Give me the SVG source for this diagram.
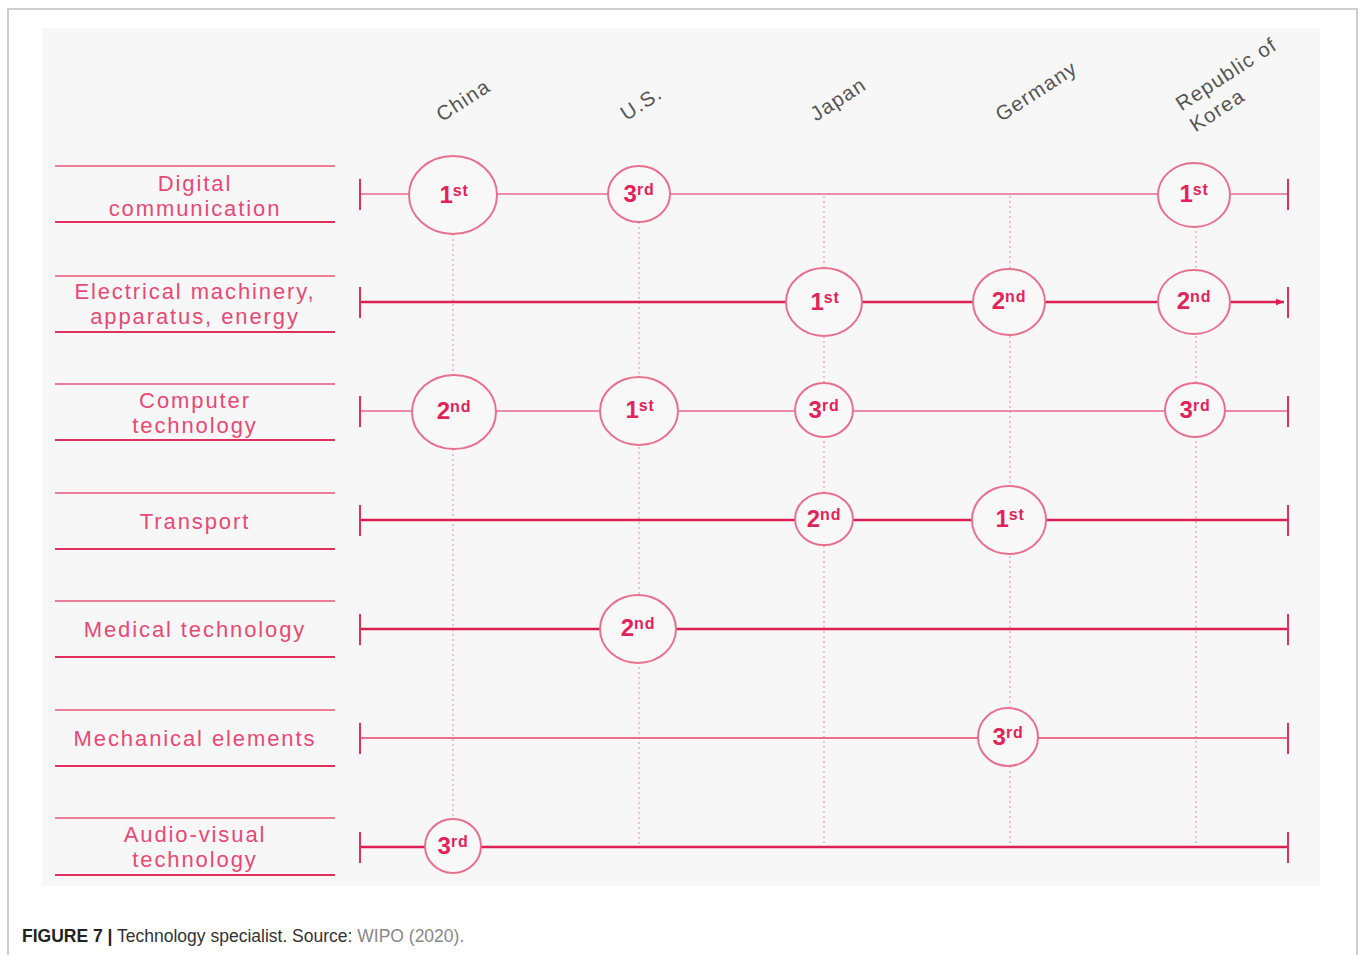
<svg xmlns="http://www.w3.org/2000/svg" width="1360" height="955" viewBox="0 0 1360 955">
<defs>
<style>
.lbl{font-family:"Liberation Sans",Arial,sans-serif;font-size:22px;letter-spacing:1.9px;fill:#e64a74;text-anchor:middle}
.sep{stroke:#e8557a;stroke-width:1.5}
.sepb{stroke:#e0305e;stroke-width:1.8}
.cty{font-family:"Liberation Sans",Arial,sans-serif;font-size:20.5px;letter-spacing:1.2px;fill:#555;text-anchor:middle}
.thin{stroke:#e96a8c;stroke-width:1.6;fill:none}
.thick{stroke:#dc1f50;stroke-width:2.6;fill:none}
.tick{stroke:#e0305e;stroke-width:2}
.dot{stroke:#eea3b6;stroke-width:1.3;stroke-dasharray:2 3}
.node ellipse{fill:#f8f8f8;stroke:#e8708f;stroke-width:2}
.ord{font-family:"Liberation Sans",Arial,sans-serif;font-weight:bold;font-size:24px;fill:#e0245a;text-anchor:middle}
.sup{font-size:16px;letter-spacing:0.8px}
.cap{font-family:"Liberation Sans",Arial,sans-serif;font-size:17.5px;fill:#333}
</style>
<marker id="arr" viewBox="0 0 10 10" refX="10" refY="5" markerWidth="3.2" markerHeight="3.2" orient="auto"><path d="M0,1 L10,5 L0,9 z" fill="#dc1f50"/></marker>
</defs>
<rect x="0" y="0" width="1360" height="955" fill="#ffffff"/>
<rect x="8" y="9" width="1349" height="960" fill="#ffffff" stroke="#cfcfcf" stroke-width="2"/>
<rect x="42" y="28" width="1278" height="858" fill="#f7f7f7"/>

<g id="countries">
<text class="cty" transform="translate(467,106) rotate(-33)">China</text>
<text class="cty" transform="translate(645,109) rotate(-33)">U.S.</text>
<text class="cty" transform="translate(842,105) rotate(-33)">Japan</text>
<text class="cty" transform="translate(1040,97) rotate(-33)">Germany</text>
<text class="cty" transform="translate(1230,80) rotate(-33)">Republic of</text>
<text class="cty" transform="translate(1221,116) rotate(-33)">Korea</text>
</g>

<g id="row-labels">
<line class="sep" x1="55" y1="166" x2="335" y2="166"/><line class="sepb" x1="55" y1="222" x2="335" y2="222"/>
<text class="lbl" x="195" y="191">Digital</text><text class="lbl" x="195" y="216">communication</text>
<line class="sep" x1="55" y1="276" x2="335" y2="276"/><line class="sepb" x1="55" y1="332" x2="335" y2="332"/>
<text class="lbl" x="195" y="299">Electrical machinery,</text><text class="lbl" x="195" y="324">apparatus, energy</text>
<line class="sep" x1="55" y1="384" x2="335" y2="384"/><line class="sepb" x1="55" y1="440" x2="335" y2="440"/>
<text class="lbl" x="195" y="408">Computer</text><text class="lbl" x="195" y="433">technology</text>
<line class="sep" x1="55" y1="493" x2="335" y2="493"/><line class="sepb" x1="55" y1="549" x2="335" y2="549"/>
<text class="lbl" x="195" y="529">Transport</text>
<line class="sep" x1="55" y1="601" x2="335" y2="601"/><line class="sepb" x1="55" y1="657" x2="335" y2="657"/>
<text class="lbl" x="195" y="637">Medical technology</text>
<line class="sep" x1="55" y1="710" x2="335" y2="710"/><line class="sepb" x1="55" y1="766" x2="335" y2="766"/>
<text class="lbl" x="195" y="746">Mechanical elements</text>
<line class="sep" x1="55" y1="818" x2="335" y2="818"/><line class="sepb" x1="55" y1="875" x2="335" y2="875"/>
<text class="lbl" x="195" y="842">Audio-visual</text><text class="lbl" x="195" y="867">technology</text>
</g>

<g id="connectors">
<line class="dot" x1="453" y1="234" x2="453" y2="822"/>
<line class="dot" x1="639" y1="222" x2="639" y2="847"/>
<line class="dot" x1="824" y1="196" x2="824" y2="847"/>
<line class="dot" x1="1010" y1="196" x2="1010" y2="847"/>
<line class="dot" x1="1196" y1="226" x2="1196" y2="847"/>

<line class="thin" x1="360" y1="194" x2="1288" y2="194"/>
<line class="thick" x1="360" y1="302" x2="1284" y2="302" marker-end="url(#arr)"/>
<line class="thin" x1="360" y1="411" x2="1288" y2="411"/>
<line class="thick" x1="360" y1="520" x2="1288" y2="520"/>
<line class="thick" x1="360" y1="629" x2="1288" y2="629"/>
<line class="thin" x1="360" y1="738" x2="1288" y2="738" style="stroke:#e8406a"/>
<line class="thick" x1="360" y1="847" x2="1288" y2="847"/>

<g id="ticks">
<line class="tick" x1="360" y1="179" x2="360" y2="210"/><line class="tick" x1="1288" y1="179" x2="1288" y2="210"/>
<line class="tick" x1="360" y1="287" x2="360" y2="318"/><line class="tick" x1="1288" y1="287" x2="1288" y2="318"/>
<line class="tick" x1="360" y1="396" x2="360" y2="427"/><line class="tick" x1="1288" y1="396" x2="1288" y2="427"/>
<line class="tick" x1="360" y1="505" x2="360" y2="536"/><line class="tick" x1="1288" y1="505" x2="1288" y2="536"/>
<line class="tick" x1="360" y1="614" x2="360" y2="645"/><line class="tick" x1="1288" y1="614" x2="1288" y2="645"/>
<line class="tick" x1="360" y1="723" x2="360" y2="754"/><line class="tick" x1="1288" y1="723" x2="1288" y2="754"/>
<line class="tick" x1="360" y1="832" x2="360" y2="863"/><line class="tick" x1="1288" y1="832" x2="1288" y2="863"/>
</g>
</g>

<g id="r1-china" class="node"><ellipse cx="453" cy="195" rx="44" ry="39"/><text class="ord" x="454" y="203">1<tspan class="sup" dy="-7">st</tspan></text></g>
<g id="r1-us" class="node"><ellipse cx="639" cy="194" rx="31" ry="28"/><text class="ord" x="639" y="202">3<tspan class="sup" dy="-7">rd</tspan></text></g>
<g id="r1-korea" class="node"><ellipse cx="1194" cy="195" rx="36" ry="32"/><text class="ord" x="1194" y="202">1<tspan class="sup" dy="-7">st</tspan></text></g>

<g id="r2-japan" class="node"><ellipse cx="824" cy="302" rx="38" ry="34"/><text class="ord" x="825" y="310">1<tspan class="sup" dy="-7">st</tspan></text></g>
<g id="r2-germany" class="node"><ellipse cx="1009" cy="302" rx="36" ry="33"/><text class="ord" x="1009" y="309">2<tspan class="sup" dy="-7">nd</tspan></text></g>
<g id="r2-korea" class="node"><ellipse cx="1194" cy="302" rx="36" ry="32"/><text class="ord" x="1194" y="309">2<tspan class="sup" dy="-7">nd</tspan></text></g>

<g id="r3-china" class="node"><ellipse cx="454" cy="412" rx="42" ry="37"/><text class="ord" x="454" y="419">2<tspan class="sup" dy="-7">nd</tspan></text></g>
<g id="r3-us" class="node"><ellipse cx="639" cy="411" rx="39" ry="34"/><text class="ord" x="640" y="418">1<tspan class="sup" dy="-7">st</tspan></text></g>
<g id="r3-japan" class="node"><ellipse cx="824" cy="410" rx="29" ry="27"/><text class="ord" x="824" y="418">3<tspan class="sup" dy="-7">rd</tspan></text></g>
<g id="r3-korea" class="node"><ellipse cx="1195" cy="410" rx="30" ry="27"/><text class="ord" x="1195" y="418">3<tspan class="sup" dy="-7">rd</tspan></text></g>

<g id="r4-japan" class="node"><ellipse cx="824" cy="519" rx="29" ry="26"/><text class="ord" x="824" y="527">2<tspan class="sup" dy="-7">nd</tspan></text></g>
<g id="r4-germany" class="node"><ellipse cx="1009" cy="520" rx="37" ry="34"/><text class="ord" x="1010" y="527">1<tspan class="sup" dy="-7">st</tspan></text></g>

<g id="r5-us" class="node"><ellipse cx="638" cy="629" rx="38" ry="34"/><text class="ord" x="638" y="636">2<tspan class="sup" dy="-7">nd</tspan></text></g>

<g id="r6-germany" class="node"><ellipse cx="1008" cy="737" rx="30" ry="29"/><text class="ord" x="1008" y="745">3<tspan class="sup" dy="-7">rd</tspan></text></g>

<g id="r7-china" class="node"><ellipse cx="453" cy="846" rx="28" ry="27"/><text class="ord" x="453" y="854">3<tspan class="sup" dy="-7">rd</tspan></text></g>

<g id="caption">
<text class="cap" x="22" y="942"><tspan font-weight="bold" fill="#222">FIGURE 7 |</tspan> Technology specialist. Source: <tspan fill="#888">WIPO (2020).</tspan></text>
</g>
</svg>
